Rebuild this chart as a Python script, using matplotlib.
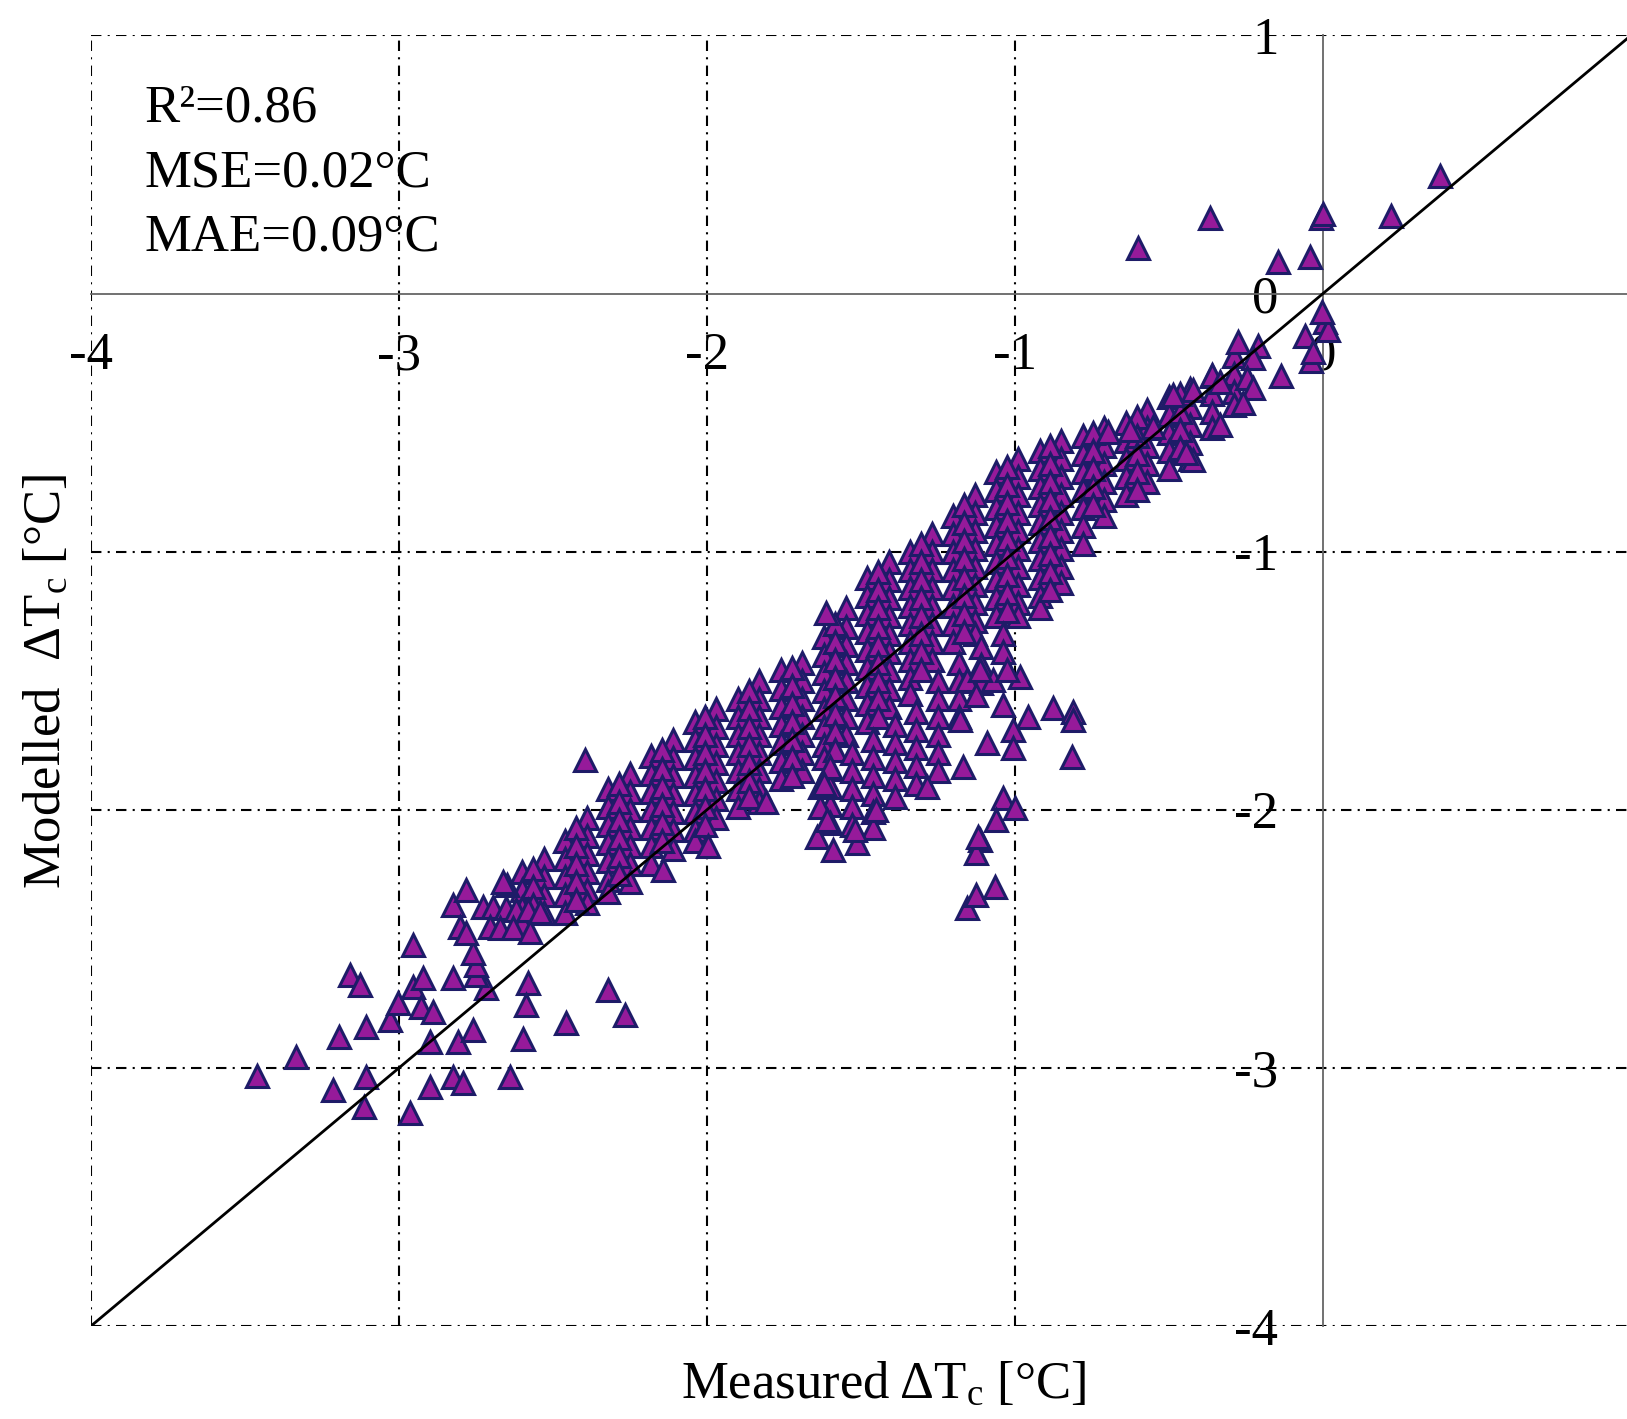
import numpy as np
from matplotlib import pyplot as plt

plt.rcParams['font.family'] = ['Liberation Serif', 'DejaVu Serif']
plt.rcParams['mathtext.fontset'] = 'custom'
plt.rcParams['mathtext.rm'] = 'Liberation Serif'
plt.rcParams['mathtext.it'] = 'Liberation Serif:italic'

# dense band along the 1:1 line, read column by column (measured x, modelled y values)
core_x = [-2.60, -2.53, -2.46, -2.39, -2.32, -2.25, -2.18, -2.11, -2.04, -1.97,
          -1.90, -1.83, -1.76, -1.69, -1.62, -1.55, -1.48, -1.41, -1.34, -1.27,
          -1.20, -1.13, -1.06, -0.99, -0.92, -0.85, -0.78, -0.71, -0.64, -0.57,
          -0.50, -0.43, -0.36, -0.29]
core_y = [
    [-2.24, -2.31, -2.38, -2.44],
    [-2.19, -2.26, -2.33, -2.40],
    [-2.12, -2.19, -2.26, -2.33, -2.40],
    [-2.03, -2.10, -2.17, -2.24, -2.31, -2.36],
    [-1.92, -1.99, -2.06, -2.13, -2.20, -2.27, -2.32],
    [-1.86, -1.93, -2.00, -2.07, -2.14, -2.21, -2.28],
    [-1.79, -1.86, -1.93, -2.00, -2.07, -2.14, -2.21],
    [-1.73, -1.80, -1.87, -1.94, -2.01, -2.08, -2.15],
    [-1.66, -1.73, -1.80, -1.87, -1.94, -2.01, -2.08, -2.12],
    [-1.61, -1.68, -1.75, -1.82, -1.89, -1.96, -2.03],
    [-1.57, -1.64, -1.71, -1.78, -1.85, -1.92, -1.99],
    [-1.50, -1.57, -1.64, -1.71, -1.78, -1.85, -1.92, -1.97],
    [-1.46, -1.53, -1.60, -1.67, -1.74, -1.81, -1.88],
    [-1.43, -1.50, -1.57, -1.64, -1.71, -1.78, -1.85],
    [-1.33, -1.40, -1.47, -1.54, -1.61, -1.68, -1.75, -1.80],
    [-1.22, -1.29, -1.36, -1.43, -1.50, -1.57, -1.64, -1.71],
    [-1.10, -1.17, -1.24, -1.31, -1.38, -1.45, -1.52, -1.59, -1.66],
    [-1.04, -1.11, -1.18, -1.25, -1.32, -1.39, -1.46, -1.53, -1.60],
    [-1.00, -1.07, -1.14, -1.21, -1.28, -1.35, -1.42, -1.49, -1.55],
    [-0.93, -1.00, -1.07, -1.14, -1.21, -1.28, -1.35, -1.42],
    [-0.86, -0.93, -1.00, -1.07, -1.14, -1.21, -1.28, -1.35],
    [-0.78, -0.85, -0.92, -0.99, -1.06, -1.13, -1.20, -1.27, -1.32],
    [-0.69, -0.76, -0.83, -0.90, -0.97, -1.04, -1.11, -1.18, -1.25],
    [-0.64, -0.71, -0.78, -0.85, -0.92, -0.99, -1.06, -1.13, -1.20, -1.25],
    [-0.61, -0.68, -0.75, -0.82, -0.89, -0.96, -1.03, -1.10, -1.17, -1.22],
    [-0.57, -0.64, -0.71, -0.78, -0.85, -0.92, -0.99, -1.06, -1.12],
    [-0.55, -0.62, -0.69, -0.76, -0.83, -0.90, -0.97],
    [-0.52, -0.59, -0.66, -0.73, -0.80, -0.86],
    [-0.50, -0.57, -0.64, -0.71, -0.78],
    [-0.45, -0.52, -0.59, -0.66, -0.73],
    [-0.40, -0.47, -0.54, -0.61, -0.68],
    [-0.37, -0.44, -0.51, -0.58, -0.64],
    [-0.32, -0.39, -0.46, -0.52],
    [-0.24, -0.31, -0.38, -0.43],
]

# in-between columns of the band, offset half a row
fill_x = [-2.565, -2.425, -2.285, -2.145, -2.005, -1.865, -1.725, -1.585, -1.445,
          -1.305, -1.165, -1.025, -0.885, -0.745, -0.605, -0.465]
fill_y = [
    [-2.23, -2.30, -2.37],
    [-2.07, -2.14, -2.21, -2.28, -2.35],
    [-1.90, -1.97, -2.04, -2.11, -2.18, -2.25],
    [-1.77, -1.84, -1.91, -1.98, -2.05, -2.12],
    [-1.64, -1.71, -1.78, -1.85, -1.92, -1.99, -2.06],
    [-1.54, -1.61, -1.68, -1.75, -1.82, -1.89, -1.95],
    [-1.45, -1.52, -1.59, -1.66, -1.73, -1.80, -1.87],
    [-1.28, -1.35, -1.42, -1.49, -1.56, -1.63, -1.70, -1.77],
    [-1.08, -1.15, -1.22, -1.29, -1.36, -1.43, -1.50, -1.57, -1.64],
    [-0.97, -1.04, -1.11, -1.18, -1.25, -1.32, -1.39, -1.46],
    [-0.82, -0.89, -0.96, -1.03, -1.10, -1.17, -1.24, -1.31],
    [-0.67, -0.74, -0.81, -0.88, -0.95, -1.02, -1.09, -1.16, -1.23],
    [-0.59, -0.66, -0.73, -0.80, -0.87, -0.94, -1.01, -1.08, -1.15],
    [-0.54, -0.61, -0.68, -0.75, -0.82],
    [-0.48, -0.55, -0.62, -0.69, -0.76],
    [-0.39, -0.46, -0.53, -0.60],
]

# lower lobe under the band (measured -1.6 .. -1.0)
lobe_x = [-1.60, -1.53, -1.46, -1.39, -1.32, -1.25, -1.18, -1.11, -1.04]
lobe_y = [
    [-1.84, -1.91, -1.98, -2.05],
    [-1.78, -1.85, -1.92, -1.99, -2.06],
    [-1.73, -1.80, -1.87, -1.94, -2.01, -2.07],
    [-1.67, -1.74, -1.81, -1.88, -1.95],
    [-1.62, -1.69, -1.76, -1.83, -1.90],
    [-1.50, -1.57, -1.64, -1.71, -1.78, -1.85],
    [-1.43, -1.50, -1.57, -1.64],
    [-1.37, -1.44, -1.51],
    [-1.32, -1.39],
]

# loose points near the origin
upper_x = [0.38, 0.22, -0.005, 0.0, -0.365, -0.60, -0.146, -0.043, 0.006, 0.016,
           -0.059, -0.277, -0.136, -0.038, -0.212, -0.031, -0.226, -0.248, -0.226,
           -0.259, -0.361, -0.335, -0.421, -0.486, -0.551, -0.627, -0.697, -0.421,
           -0.443, -0.335, -0.002]
upper_y = [0.456, 0.299, 0.293, 0.31, 0.293, 0.177, 0.124, 0.143, -0.11, -0.141,
           -0.163, -0.189, -0.318, -0.26, -0.202, -0.225, -0.251, -0.328, -0.367,
           -0.425, -0.315, -0.341, -0.373, -0.393, -0.516, -0.528, -0.535, -0.645,
           -0.619, -0.509, -0.07]

# loose points right of and below the band
mid_x = [-0.984, -1.038, -0.957, -0.876, -0.811, -0.811, -0.816, -1.092, -1.006,
         -1.006, -1.179, -1.157, -1.125, -1.07, -1.027, -1.114, -1.168, -1.287,
         -1.038, -1.0, -1.06, -1.114, -1.125, -1.157, -1.125, -1.065, -1.12,
         -1.644, -1.59, -1.514, -1.634, -1.634, -1.60, -1.807, -1.61, -1.62,
         -1.612, -2.397, -1.995, -2.142, -2.65, -1.45, -1.52]
mid_y = [-1.484, -1.594, -1.639, -1.607, -1.62, -1.652, -1.797, -1.742, -1.691,
         -1.762, -1.652, -1.497, -1.555, -1.497, -1.458, -1.458, -1.833, -1.91,
         -1.955, -1.994, -2.04, -2.117, -2.169, -2.382, -2.33, -2.298, -2.104,
         -2.104, -2.156, -2.13, -1.988, -1.91, -1.833, -1.969, -2.04, -1.90,
         -1.239, -1.807, -2.139, -2.233, -2.29, -2.0, -2.08]

# sparse tail at the cold end
low_x = [-3.46, -3.333, -3.214, -3.193, -3.16, -3.128, -3.106, -3.106, -3.112, -3.03,
         -3.003, -2.965, -2.954, -2.954, -2.922, -2.927, -2.89, -2.90, -2.90, -2.825,
         -2.792, -2.808, -2.76, -2.64, -2.581, -2.586, -2.597, -2.456, -2.321, -2.266,
         -2.825, -2.716, -2.749, -2.749, -2.76, -2.825, -2.781, -2.662, -2.727, -2.695,
         -2.651, -2.619, -2.581, -2.543, -2.803, -2.781, -2.705, -2.672, -2.630, -2.575]
low_y = [-3.03, -2.957, -3.086, -2.879, -2.64, -2.679, -2.84, -3.034, -3.15, -2.815,
         -2.75, -3.176, -2.524, -2.686, -2.653, -2.763, -2.782, -2.899, -3.073, -3.034,
         -3.06, -2.899, -2.853, -3.034, -2.672, -2.756, -2.886, -2.827, -2.698, -2.795,
         -2.653, -2.692, -2.64, -2.601, -2.556, -2.369, -2.311, -2.279, -2.375, -2.375,
         -2.382, -2.388, -2.388, -2.395, -2.453, -2.479, -2.453, -2.459, -2.459, -2.472]

stats_text = ['R\u00b2=0.86', 'MSE=0.02\u00b0C', 'MAE=0.09\u00b0C']
ticks = [-4, -3, -2, -1, 0, 1]

measured = []
modelled = []
for cx, cols in [(core_x, core_y), (fill_x, fill_y), (lobe_x, lobe_y)]:
    for x, col in zip(cx, cols):
        for y in col:
            measured.append(x)
            modelled.append(y)
measured += upper_x + mid_x + low_x
modelled += upper_y + mid_y + low_y

fig = plt.figure(figsize=(16.27, 14.19), dpi=100)
ax = fig.add_axes([0.0559, 0.0655, 0.9465, 0.9095])
ax.set_xlim(-4, 1)
ax.set_ylim(-4, 1)

dashdot = (0, (5, 3, 1, 3))
for t in ticks:
    if t == 0:
        continue
    ax.axvline(t, color='k', lw=1.5, ls=dashdot, zorder=1)
    ax.axhline(t, color='k', lw=1.5, ls=dashdot, zorder=1)

ax.plot(measured, modelled, ls='none', marker='^', markersize=16,
        markerfacecolor='#961a9a', markeredgecolor='#1e1c68', markeredgewidth=2.2,
        zorder=3)
ax.plot([-4, 1], [-4, 1], color='k', lw=2, zorder=4)

for s in ['top', 'right']:
    ax.spines[s].set_visible(False)
ax.spines['left'].set_position(('data', 0))
ax.spines['bottom'].set_position(('data', 0))
for s in ['left', 'bottom']:
    ax.spines[s].set_color('#666666')
    ax.spines[s].set_linewidth(1.3)
    ax.spines[s].set_zorder(2)

ax.set_xticks(ticks[:-1])
ax.set_yticks(ticks)
ax.set_xticklabels([str(t) for t in ticks[:-1]])
ax.set_yticklabels([str(t) for t in ticks])
ax.tick_params(axis='x', length=0, pad=28, labelsize=38)
ax.tick_params(axis='y', length=0, pad=32, labelsize=38)

for i, s in enumerate(stats_text):
    ax.text(0.035, 0.962 - i * 0.05, s, transform=ax.transAxes, fontsize=38,
            va='top', ha='left')

fig.text(0.543, 0.024, 'Measured\u2009\u0394T$_{\\mathrm{c}}$ [\u00b0C]', fontsize=38,
         ha='center', va='center', family=['Liberation Serif', 'DejaVu Serif'])
fig.text(0.029, 0.52, 'Modelled  \u0394T$_{\\mathrm{c}}$ [\u00b0C]', fontsize=38,
         ha='center', va='center', rotation=90)

fig.savefig('out.png', dpi=100, facecolor='white')
